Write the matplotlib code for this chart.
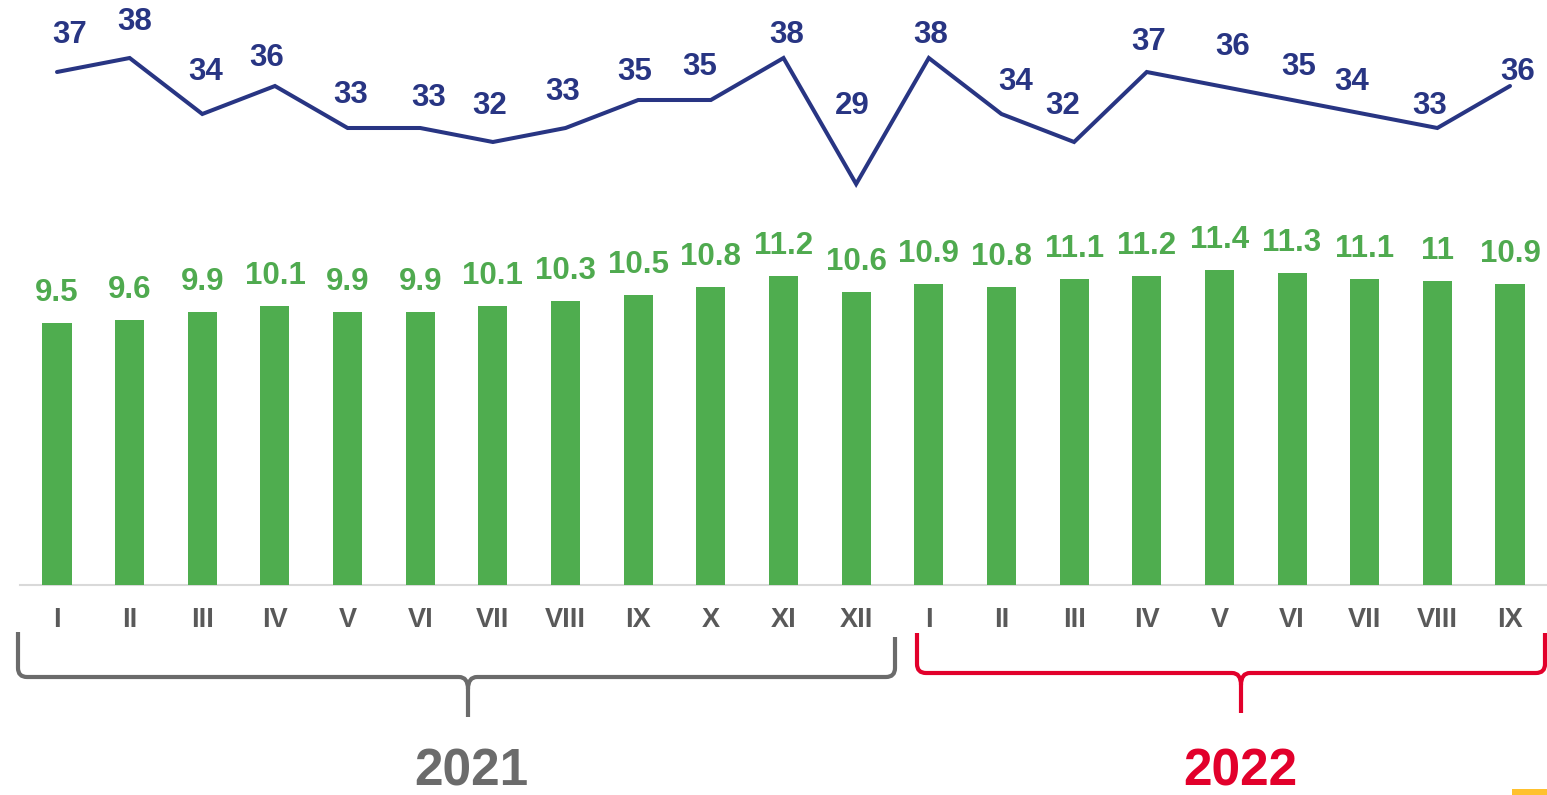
import matplotlib
matplotlib.use("Agg")
import matplotlib.pyplot as plt
from matplotlib.path import Path
from matplotlib.patches import PathPatch

# ---- data ----
months_2021 = ["I", "II", "III", "IV", "V", "VI", "VII", "VIII", "IX", "X", "XI", "XII"]
months_2022 = ["I", "II", "III", "IV", "V", "VI", "VII", "VIII", "IX"]
bars_2021 = [9.5, 9.6, 9.9, 10.1, 9.9, 9.9, 10.1, 10.3, 10.5, 10.8, 11.2, 10.6]
bars_2022 = [10.9, 10.8, 11.1, 11.2, 11.4, 11.3, 11.1, 11, 10.9]
line_2021 = [37, 38, 34, 36, 33, 33, 32, 33, 35, 35, 38, 29]
line_2022 = [38, 34, 32, 37, 36, 35, 34, 33, 36]
years = ["2021", "2022"]

# label offsets (pixels) for the line values, as placed in the original
line_label_offsets = [(13, 37), (5, 36), (3, 42), (-8, 28), (3, 33), (8, 30), (-3, 36),
                      (-3, 36), (-3, 28), (-11, 33), (3, 23), (-4, 78), (2, 23), (14, 32),
                      (-11, 36), (2, 30), (13, 39), (7, 33), (-13, 32), (-8, 22), (8, 14)]

labels = months_2021 + months_2022
bars = bars_2021 + bars_2022
line = line_2021 + line_2022
n = len(labels)
x = list(range(n))

W, H = 1547, 795
X0, DX = 57, 72.65      # pixel centre of first bar, spacing
BASE = 585              # bar baseline pixel
BPX = 27.6              # px per bar unit
LZERO, LPX = 590, 14.0  # line axis zero pixel and px per unit

GREEN = "#4FAD4F"
GREEN_T = "#4FAA4F"
NAVY = "#283583"
GRAY_T = "#595959"
GRAY_B = "#6B6B6B"
RED = "#E2002B"
YELLOW = "#FFC12E"

plt.rcParams['font.family'] = ['Liberation Sans', 'DejaVu Sans']
plt.rcParams['font.weight'] = 'bold'

fig = plt.figure(figsize=(W / 100, H / 100), dpi=100)
ax = fig.add_axes([0, 0, 1, 1])
ax.set_xlim(-X0 / DX, (W - X0) / DX)
ax.set_ylim(-(H - BASE) / BPX, BASE / BPX)
ax.axis("off")

ax.bar(x, bars, width=0.40, color=GREEN, zorder=2)
ax.axhline(0, xmin=20 / W, xmax=1, color="#D9D9D9", lw=1.5, zorder=1)

for xi, v in zip(x, bars):
    ax.annotate(f"{v:g}", (xi, v), xytext=(0, 30), textcoords="offset pixels",
                ha="center", va="center", color=GREEN_T, fontsize=22.5, fontweight="bold")

lab_y = -(620 - BASE) / BPX
for xi, lab in zip(x, labels):
    ax.text(xi, lab_y, lab, ha="center", va="center", color=GRAY_T, fontsize=19.5,
            fontweight="bold")

ax2 = ax.twinx()
ax2.set_ylim(-(H - LZERO) / LPX, LZERO / LPX)
ax2.axis("off")
ax2.plot(x, line, color=NAVY, lw=2.9, solid_joinstyle="miter", solid_capstyle="round")
for xi, v, (dx, dy) in zip(x, line, line_label_offsets):
    ax2.annotate(f"{v}", (xi, v), xytext=(dx, dy), textcoords="offset pixels",
                 ha="center", va="center", color=NAVY, fontsize=22.5, fontweight="bold")

# ---- braces and year labels in pixel coordinates ----
ov = fig.add_axes([0, 0, 1, 1], zorder=5)
ov.set_xlim(0, W)
ov.set_ylim(H, 0)
ov.axis("off")
ov.patch.set_alpha(0)


def brace(x_left, x_right, xm, top_l, top_r, hy, tip, color):
    r = 9
    verts = [(x_left, top_l), (x_left, hy - r), (x_left, hy), (x_left + r, hy),
             (xm - 9, hy), (xm, hy), (xm, hy + 12), (xm, tip)]
    codes = [Path.MOVETO, Path.LINETO, Path.CURVE3, Path.CURVE3,
             Path.LINETO, Path.CURVE3, Path.CURVE3, Path.LINETO]
    verts2 = [(x_right, top_r), (x_right, hy - r), (x_right, hy), (x_right - r, hy),
              (xm + 9, hy), (xm, hy), (xm, hy + 12)]
    codes2 = [Path.MOVETO, Path.LINETO, Path.CURVE3, Path.CURVE3,
              Path.LINETO, Path.CURVE3, Path.CURVE3]
    for v, c in ((verts, codes), (verts2, codes2)):
        ov.add_patch(PathPatch(Path(v, c), fill=False, edgecolor=color, lw=3.0,
                               capstyle="butt", joinstyle="round"))


brace(18, 895, 468, 632, 637, 677, 717, GRAY_B)
brace(917, 1545, 1241, 633, 633, 673, 713, RED)
ov.text(471, 772, years[0], ha="center", va="center", color=GRAY_B, fontsize=37, fontweight="bold")
ov.text(1240, 772, years[1], ha="center", va="center", color=RED, fontsize=37, fontweight="bold")
ov.add_patch(plt.Rectangle((1512, 789), 35, 7, color=YELLOW, lw=0))

fig.savefig("out.png", dpi=100)
